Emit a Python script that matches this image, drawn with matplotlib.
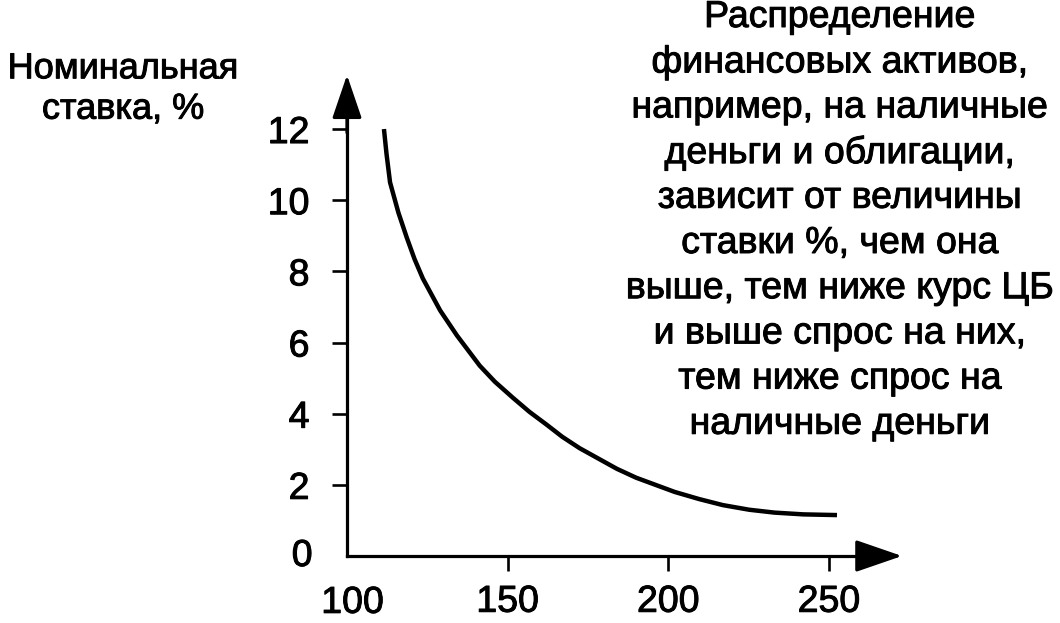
import matplotlib
matplotlib.use("Agg")
import matplotlib.pyplot as plt
import matplotlib.patheffects as pe

plt.rcParams["font.family"] = ["Liberation Sans", "DejaVu Sans"]

# curve: demand vs nominal rate
demand = [111.5, 112.3, 113.4, 116.0, 118.6, 121.0, 123.6, 129.0, 134.2,
          141.3, 146.0, 151.6, 156.8, 162.0, 167.0, 172.4, 178.6, 184.0,
          190.0, 196.0, 202.0, 209.6, 217.0, 225.2, 233.0, 242.0, 252.5]
rate = [12.0, 11.3, 10.5, 9.65, 8.95, 8.35, 7.8, 6.9, 6.2,
        5.35, 4.9, 4.45, 4.05, 3.7, 3.35, 3.03, 2.72, 2.45,
        2.2, 2.0, 1.8, 1.6, 1.43, 1.3, 1.22, 1.17, 1.15]

x_ticks = [150, 200, 250]
y_ticks = [2, 4, 6, 8, 10, 12]

y_title = "Номинальная\nставка, %"
note_lines = [
    "Распределение",
    "финансовых активов,",
    "например, на наличные",
    "деньги и облигации,",
    "зависит от величины",
    "ставки %, чем она",
    "выше, тем ниже курс ЦБ",
    "и выше спрос на них,",
    "тем ниже спрос на",
    "наличные деньги",
]

W, H = 1060, 623
ink = [pe.withStroke(linewidth=0.7, foreground="black")]

fig = plt.figure(figsize=(W / 100, H / 100), dpi=100)
# axes box: x=100 at px 347, tip at 902; y=0 at px 556, tip at 75
ax = fig.add_axes([347 / W, 1 - 556 / H, (902 - 347) / W, (556 - 75) / H])
x_max = 100 + (902 - 347) / 3.213
y_max = (556 - 75) / 35.58
ax.set_xlim(100, x_max)
ax.set_ylim(0, y_max)

ax.plot(demand, rate, color="black", lw=3.2, solid_capstyle="butt",
        solid_joinstyle="round")

for s in ["top", "right"]:
    ax.spines[s].set_visible(False)
for s in ["left", "bottom"]:
    ax.spines[s].set_linewidth(2.3)
ax.spines["left"].set_bounds(0, y_max * 0.94)
ax.spines["bottom"].set_bounds(100, x_max - 0.06 * (x_max - 100))

ax.set_xticks(x_ticks)
ax.set_xticklabels([str(v) for v in x_ticks])
ax.set_yticks(y_ticks)
ax.set_yticklabels([str(v) for v in y_ticks])
ax.tick_params(axis="x", direction="out", length=11, width=1.9, pad=9, labelsize=27)
ax.tick_params(axis="y", direction="out", length=11, width=1.9, pad=16, labelsize=27)
for lab in ax.get_xticklabels() + ax.get_yticklabels():
    lab.set_path_effects(ink)

# labels at the corner without ticks
ax.text(-0.062, 0, "0", transform=ax.transAxes, ha="right", va="center",
        fontsize=27, path_effects=ink)
ax.text(0.01, -0.06, "100", transform=ax.transAxes, ha="center", va="top",
        fontsize=27, path_effects=ink)

# arrow heads
ax.annotate("", xy=(1, 0), xytext=(0.92, 0), xycoords="axes fraction",
            arrowprops=dict(arrowstyle="-|>,head_length=1.45,head_width=0.5",
                            mutation_scale=20, lw=2.3, color="black",
                            shrinkA=0, shrinkB=0))
ax.annotate("", xy=(0, 1), xytext=(0, 0.88), xycoords="axes fraction",
            arrowprops=dict(arrowstyle="-|>,head_length=1.35,head_width=0.46",
                            mutation_scale=20, lw=2.3, color="black",
                            shrinkA=0, shrinkB=0))

fig.text(123 / W, 1 - 89 / H, y_title, ha="center", va="center", fontsize=26,
         linespacing=1.2, path_effects=ink)

y0 = 17
step = 45.2
for i, line in enumerate(note_lines):
    fig.text(840 / W, 1 - (y0 + i * step) / H, line, ha="center", va="center",
             fontsize=27, path_effects=ink)

fig.savefig("out.png", dpi=100)
